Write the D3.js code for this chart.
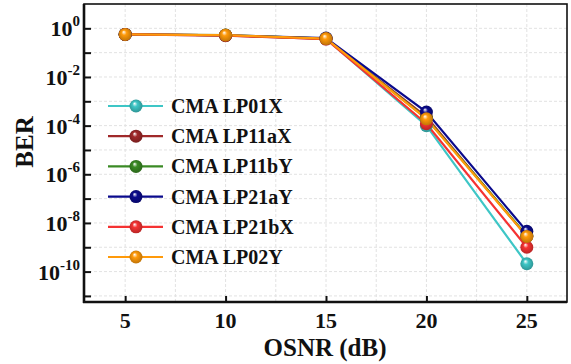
<!DOCTYPE html>
<html><head><meta charset="utf-8">
<script src="https://cdn.jsdelivr.net/npm/d3@7"></script>
<style>
html,body{margin:0;padding:0;background:#fff;}
text{font-family:"Liberation Serif","Times New Roman",serif;font-weight:bold;fill:#111;}
</style></head>
<body>
<svg id="chart" width="571" height="364"></svg>
<script>
const osnr = [5, 10, 15, 20, 25];
const seriesNames = ["CMA LP01X","CMA LP11aX","CMA LP11bY","CMA LP21aY","CMA LP21bX","CMA LP02Y"];
const seriesColors = ["#3ec6c6","#a0292a","#3a8a24","#0a0a8c","#f53232","#ff9a0a"];
const lp01x  = [0.56, 0.53, 0.38, 1.0e-4, 2.1e-10];
const lp11ax = [0.56, 0.50, 0.37, 2.3e-4, 2.8e-9];
const lp11by = [0.56, 0.52, 0.38, 2.0e-4, 3.0e-9];
const lp21ay = [0.56, 0.52, 0.40, 3.6e-4, 4.5e-9];
const lp21bx = [0.56, 0.51, 0.36, 1.2e-4, 1.0e-9];
const lp02y  = [0.56, 0.53, 0.38, 1.9e-4, 2.8e-9];
const seriesValues = [lp01x, lp11ax, lp11by, lp21ay, lp21bx, lp02y];
const xTicks = [5, 10, 15, 20, 25];
const yLabelExps = [0, -2, -4, -6, -8, -10];

const svg = d3.select("#chart");
const L = 84, R = 567, T = 4, B = 302;
const x = d3.scaleLinear().domain([3, 27]).range([L + 1, R]);
const y = d3.scaleLog().domain([Math.pow(10, -11.25), 10]).range([B, T]);

// gradients
const defs = svg.append("defs");
seriesColors.forEach((c, i) => {
  const g = defs.append("radialGradient").attr("id", "g" + i)
    .attr("cx", "50%").attr("cy", "50%").attr("r", "55%")
    .attr("fx", "38%").attr("fy", "30%");
  g.append("stop").attr("offset", "0%").attr("stop-color", "#ffffff");
  g.append("stop").attr("offset", "35%").attr("stop-color", c);
  g.append("stop").attr("offset", "100%").attr("stop-color", d3.color(c).darker(0.9));
});

// grid
const gx = d3.range(5, 27, 2.5);
svg.append("g").selectAll("line").data(gx).join("line")
  .attr("x1", d => x(d)).attr("x2", d => x(d)).attr("y1", T).attr("y2", B)
  .attr("stroke", "#e2e2e2").attr("stroke-width", 1).attr("stroke-dasharray", "3,2");
const gy = d3.range(0, -12, -1).map(e => Math.pow(10, e));
svg.append("g").selectAll("line").data(gy).join("line")
  .attr("x1", L).attr("x2", R).attr("y1", d => y(d)).attr("y2", d => y(d))
  .attr("stroke", "#e2e2e2").attr("stroke-width", 1).attr("stroke-dasharray", "3,2");

// axes (inward ticks)
const xAxis = d3.axisBottom(x).tickValues(xTicks).tickSize(-6).tickFormat("");
svg.append("g").attr("transform", `translate(0,${B})`).call(xAxis)
  .call(g => g.select(".domain").remove())
  .selectAll("line").attr("stroke", "#111").attr("stroke-width", 2);
const yAxis = d3.axisLeft(y).tickValues(gy).tickSize(-7).tickFormat("");
svg.append("g").attr("transform", `translate(${L},0)`).call(yAxis)
  .call(g => g.select(".domain").remove())
  .selectAll("line").attr("stroke", "#111").attr("stroke-width", 2);

// frame
svg.append("rect").attr("x", L).attr("y", T).attr("width", R - L).attr("height", B - T)
  .attr("fill", "none").attr("stroke", "#111").attr("stroke-width", 1.6);
svg.append("line").attr("x1", L).attr("x2", L).attr("y1", T).attr("y2", B + 1)
  .attr("stroke", "#111").attr("stroke-width", 2.6);
svg.append("line").attr("x1", L - 1).attr("x2", R).attr("y1", B).attr("y2", B)
  .attr("stroke", "#111").attr("stroke-width", 2.6);

// tick labels
svg.append("g").selectAll("text").data(xTicks).join("text")
  .attr("x", d => x(d)).attr("y", 328).attr("text-anchor", "middle")
  .attr("font-size", 22).text(d => d);
const yl = svg.append("g").selectAll("text").data(yLabelExps).join("text")
  .attr("x", 80).attr("y", d => y(Math.pow(10, d)) + 8).attr("text-anchor", "end")
  .attr("font-size", 22);
yl.append("tspan").text("10");
yl.append("tspan").attr("dy", -10).attr("font-size", 15).text(d => d === 0 ? "0" : "-" + Math.abs(d));

// axis titles
svg.append("text").attr("x", 325).attr("y", 356).attr("text-anchor", "middle")
  .attr("font-size", 25).text("OSNR (dB)");
svg.append("text").attr("transform", "translate(33,142) rotate(-90)")
  .attr("text-anchor", "middle").attr("font-size", 25).text("BER");

// series
const line = d3.line().x((d, i) => x(osnr[i])).y(d => y(d));
seriesValues.forEach((vals, si) => {
  svg.append("path").datum(vals).attr("d", line).attr("fill", "none")
    .attr("stroke", seriesColors[si]).attr("stroke-width", 2.2);
});
seriesValues.forEach((vals, si) => {
  svg.append("g").selectAll("circle").data(vals).join("circle")
    .attr("cx", (d, i) => x(osnr[i])).attr("cy", d => y(d)).attr("r", 6.5)
    .attr("fill", `url(#g${si})`);
});

// legend
const lg = svg.append("g");
seriesNames.forEach((n, i) => {
  const yy = 106 + i * 30.2;
  lg.append("line").attr("x1", 108).attr("x2", 163).attr("y1", yy).attr("y2", yy)
    .attr("stroke", seriesColors[i]).attr("stroke-width", 2.2);
  lg.append("circle").attr("cx", 136).attr("cy", yy).attr("r", 6.5).attr("fill", `url(#g${i})`);
  lg.append("text").attr("x", 171).attr("y", yy + 7).attr("font-size", 20).text(n);
});
</script>
</body></html>
